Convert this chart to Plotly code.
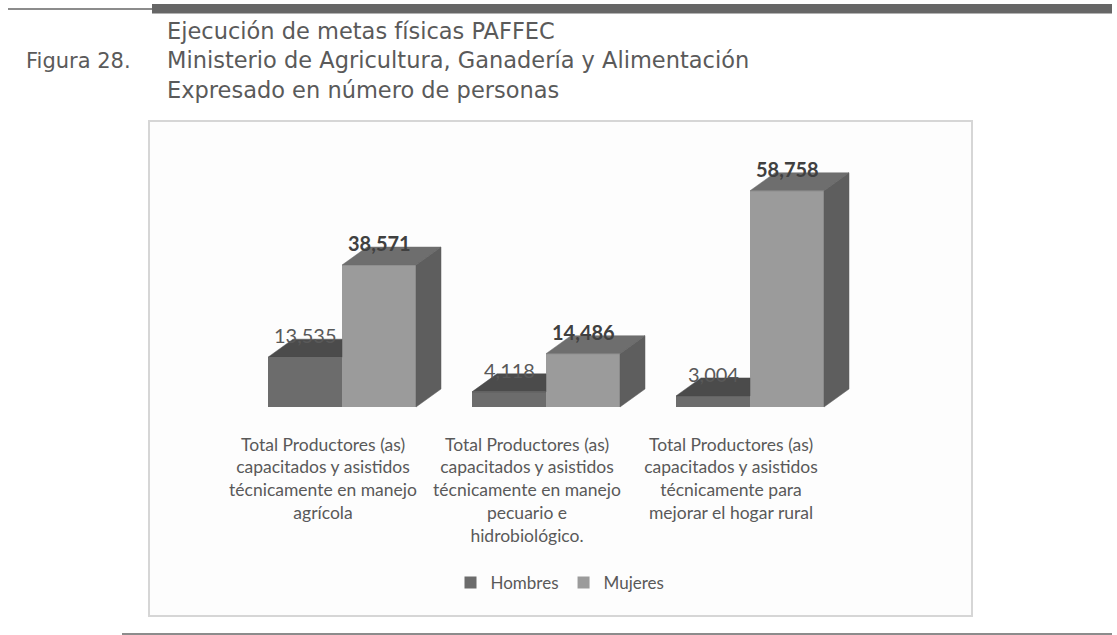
import plotly.graph_objects as go

# ---------------- data ----------------
tick_labels = [
    "Total Productores (as)<br>capacitados y asistidos<br>técnicamente en manejo<br>agrícola",
    "Total Productores (as)<br>capacitados y asistidos<br>técnicamente en manejo<br>pecuario e<br>hidrobiológico.",
    "Total Productores (as)<br>capacitados y asistidos<br>técnicamente para<br>mejorar el hogar rural",
]
series_names = ["Hombres", "Mujeres"]
hombres = [13535, 4118, 3004]
mujeres = [38571, 14486, 58758]

title_lines = [
    "Ejecución de metas físicas PAFFEC",
    "Ministerio de Agricultura, Ganadería y Alimentación",
    "Expresado en número de personas",
]
figure_label = "Figura 28."

# ---------------- geometry / style ----------------
W, H = 1117, 635
BASE_PX = 407.0            # pixel row of bar base
PX_PER_UNIT = 3.68 / 1000  # pixels per person
CAT0_PX = 342.0            # pixel column of first category centre
CAT_STEP_PX = 204.0
BAR_W_PX = 74.0
DX_PX, DY_PX = 25.0, 18.0
LABEL_SHIFT_PX = -19.0

C_H_FRONT = "#6c6c6c"
C_H_TOP = "#4b4b4b"
C_M_FRONT = "#9b9b9b"
C_M_TOP = "#6e6e6e"
C_M_SIDE = "#5e5e5e"
TXT = "#595959"

x_range = [(0 - CAT0_PX) / CAT_STEP_PX, (W - CAT0_PX) / CAT_STEP_PX]
y_range = [-(H - BASE_PX) / PX_PER_UNIT, BASE_PX / PX_PER_UNIT]
bw = BAR_W_PX / CAT_STEP_PX
dx = DX_PX / CAT_STEP_PX
dy = DY_PX / PX_PER_UNIT
idx = list(range(len(tick_labels)))


def px_x(p):
    return p / W


def px_y(p):
    return 1 - p / H


fig = go.Figure()

# front faces
fig.add_trace(go.Bar(x=idx, y=hombres, name=series_names[0], width=bw, offset=-bw,
                     marker=dict(color=C_H_FRONT, line=dict(width=0)), hoverinfo="y"))
fig.add_trace(go.Bar(x=idx, y=mujeres, name=series_names[1], width=bw, offset=0,
                     marker=dict(color=C_M_FRONT, line=dict(width=0)), hoverinfo="y"))


def poly_trace(polys, color):
    xs, ys = [], []
    for p in polys:
        for (a, b) in p:
            xs.append(a)
            ys.append(b)
        xs.append(p[0][0])
        ys.append(p[0][1])
        xs.append(None)
        ys.append(None)
    return go.Scatter(x=xs, y=ys, mode="lines", fill="toself", fillcolor=color,
                      line=dict(color=color, width=0.5), showlegend=False,
                      hoverinfo="skip")


h_top, m_top, m_side = [], [], []
for i, h, m in zip(idx, hombres, mujeres):
    h_top.append([(i - bw, h), (i, h), (i, h + dy), (i - bw + dx, h + dy)])
    m_top.append([(i, m), (i + bw, m), (i + bw + dx, m + dy), (i + dx, m + dy)])
    m_side.append([(i + bw, 0), (i + bw + dx, dy), (i + bw + dx, m + dy), (i + bw, m)])

fig.add_trace(poly_trace(h_top, C_H_TOP))
fig.add_trace(poly_trace(m_top, C_M_TOP))
fig.add_trace(poly_trace(m_side, C_M_SIDE))

annotations = []
for i, h, m in zip(idx, hombres, mujeres):
    annotations.append(dict(x=i - bw / 2, y=h, xref="x", yref="y", text=f"{h:,}",
                            showarrow=False, yshift=22, yanchor="middle", xanchor="center",
                            font=dict(family="Lato", size=20, color=TXT)))
    annotations.append(dict(x=i + bw / 2, y=m, xref="x", yref="y", text=f"<b>{m:,}</b>",
                            showarrow=False, yshift=22, yanchor="middle", xanchor="center",
                            font=dict(family="Lato", size=20, color="#404040")))

# titles (one multi-line block)
title_font = dict(family="DejaVu Sans", size=22.5, color="#5a5a5a")
annotations.append(dict(x=px_x(165), y=px_y(61), xref="paper", yref="paper",
                        text="<br>".join(title_lines), align="left",
                        showarrow=False, xanchor="left", yanchor="middle", font=title_font))
annotations.append(dict(x=px_x(133), y=px_y(61), xref="paper", yref="paper", text=figure_label,
                        showarrow=False, xanchor="right", yanchor="middle",
                        font=dict(family="DejaVu Sans", size=21, color="#5a5a5a")))

shapes = [
    # chart frame
    dict(type="rect", xref="paper", yref="paper", x0=px_x(149), x1=px_x(972),
         y0=px_y(616), y1=px_y(121), fillcolor="#fdfdfd",
         line=dict(color="#d6d6d6", width=2), layer="below"),
    # top rules
    dict(type="line", xref="paper", yref="paper", x0=px_x(8), x1=px_x(153),
         y0=px_y(9), y1=px_y(9), line=dict(color="#666666", width=1.5)),
    dict(type="rect", xref="paper", yref="paper", x0=px_x(152), x1=px_x(1112),
         y0=px_y(13.5), y1=px_y(4), fillcolor="#666666", line=dict(width=0)),
    # bottom rule
    dict(type="line", xref="paper", yref="paper", x0=px_x(122), x1=px_x(1112),
         y0=px_y(634), y1=px_y(634), line=dict(color="#666666", width=1.5)),
]

fig.update_layout(
    width=W, height=H, autosize=False,
    margin=dict(l=0, r=0, t=0, b=0, pad=0),
    paper_bgcolor="white", plot_bgcolor="rgba(0,0,0,0)",
    barmode="overlay",
    showlegend=True,
    legend=dict(orientation="h", x=px_x(560), y=px_y(583), xanchor="center", yanchor="middle",
                font=dict(family="Lato", size=17, color=TXT), bgcolor="rgba(0,0,0,0)",
                itemclick=False, itemdoubleclick=False, itemwidth=30),
    xaxis=dict(range=x_range, domain=[0, 1], anchor="free", position=px_y(432),
               tickmode="array", tickvals=[i + LABEL_SHIFT_PX / CAT_STEP_PX for i in idx],
               ticktext=tick_labels, showgrid=False, zeroline=False, showline=False,
               ticks="", tickfont=dict(family="Lato", size=17.5, color=TXT), fixedrange=True),
    yaxis=dict(range=y_range, domain=[0, 1], visible=False, showgrid=False, zeroline=False,
               fixedrange=True),
    annotations=annotations,
    shapes=shapes,
)

fig.write_html("out.html", config={"displayModeBar": False},
               post_script="document.body.style.margin='0px';document.body.style.overflow='hidden';")
